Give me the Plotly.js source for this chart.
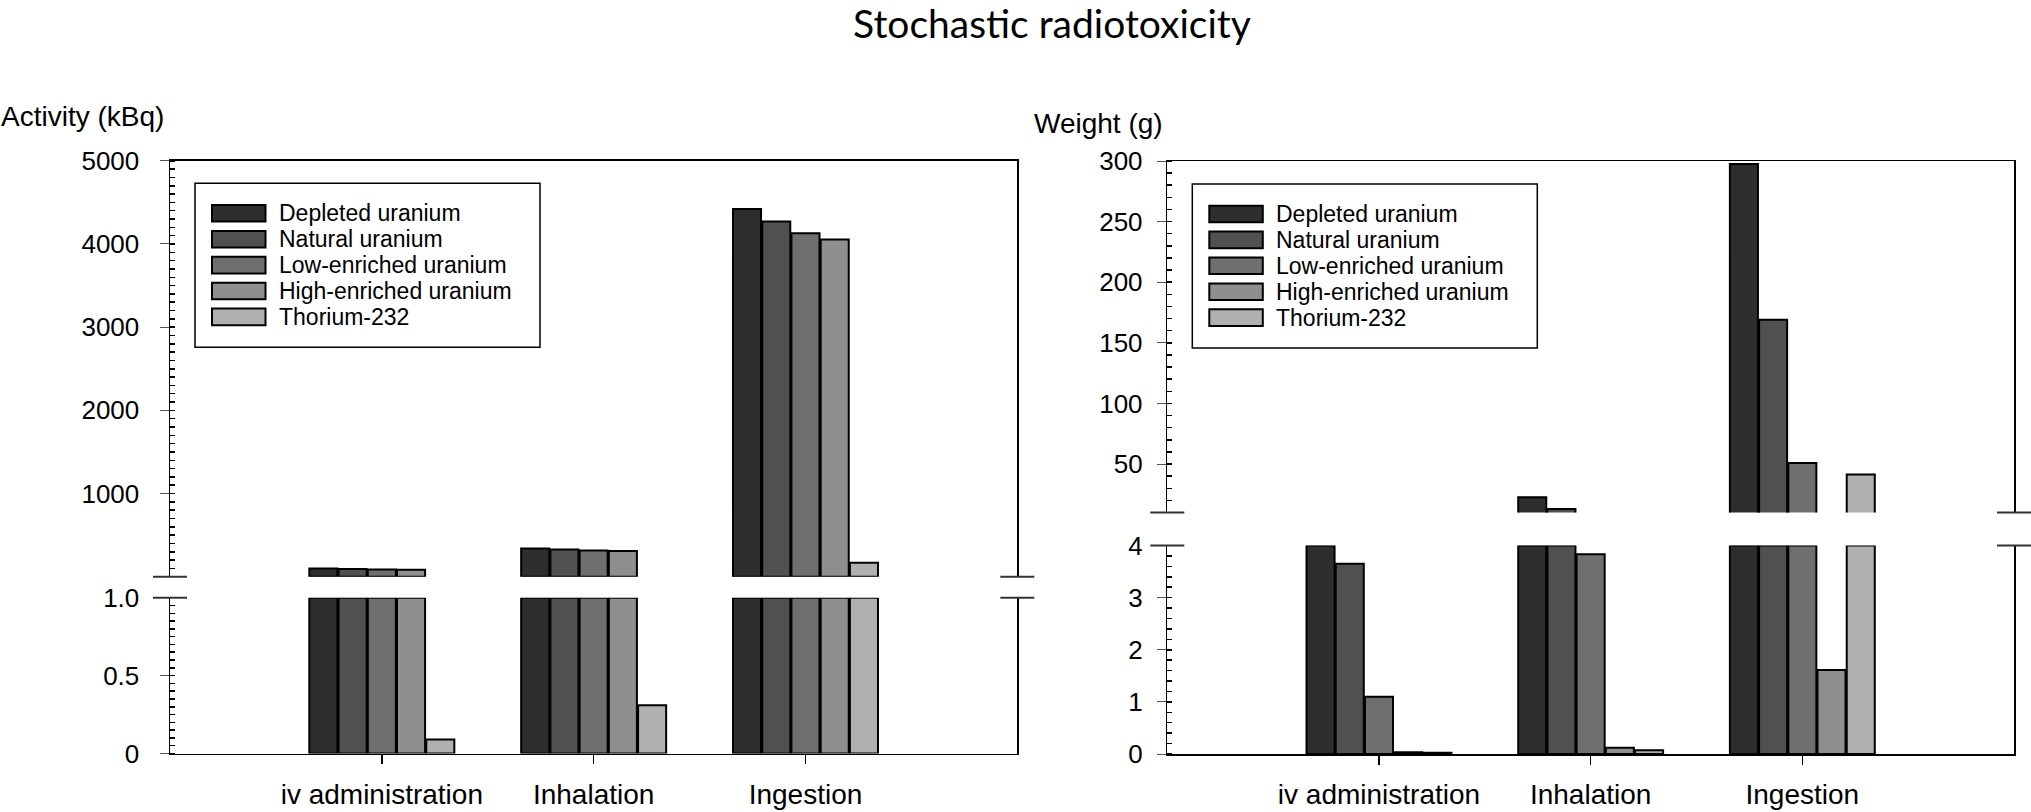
<!DOCTYPE html>
<html><head><meta charset="utf-8">
<script src="https://cdn.plot.ly/plotly-3.0.1.min.js"></script>
<style>html,body{margin:0;padding:0;background:#fff}</style>
</head><body><div id="chart" style="width:2031px;height:812px"></div>
<script>
// ---------- data ----------
const categories = ['iv administration', 'Inhalation', 'Ingestion'];
const seriesNames = ['Depleted uranium', 'Natural uranium', 'Low-enriched uranium', 'High-enriched uranium', 'Thorium-232'];

// Activity (kBq)
const activityDepleted = [100, 340, 4420];
const activityNatural  = [93, 328, 4270];
const activityLow      = [88, 315, 4130];
const activityHigh     = [84, 309, 4055];
const activityThorium  = [0.09, 0.31, 168];

// Weight (g)
const weightDepleted = [6.6, 22.6, 297.5];
const weightNatural  = [3.65, 12.8, 169];
const weightLow      = [1.1, 3.83, 50.8];
const weightHigh     = [0.035, 0.12, 1.61];
const weightThorium  = [0.022, 0.07, 41.3];

const activityLowTickVals = [0, 0.5, 1];
const activityLowTickText = ['0', '0.5', '1.0'];
const activityHighTickVals = [1000, 2000, 3000, 4000, 5000];
const weightLowTickVals = [0, 1, 2, 3, 4];
const weightHighTickVals = [50, 100, 150, 200, 250, 300];

const activityAll = [activityDepleted, activityNatural, activityLow, activityHigh, activityThorium];
const weightAll = [weightDepleted, weightNatural, weightLow, weightHigh, weightThorium];

// ---------- styling ----------
const W = 2031, H = 812;
const colors = ['#2e2e2e', '#505050', '#6f6f6f', '#8f8f8f', '#b0b0b0'];
const FONT = 'Liberation Sans, Arial, sans-serif';
const px = x => x / W;
const py = y => 1 - y / H;

const leftL = 170, leftR = 1017.3, rightL = 1167.3, rightR = 2014;
const leftLowTop = 1.0, rightLowTop = 4.0;

const traces = [];
function addPanel(values, lowTop, xLow, yLow, xHigh, yHigh) {
  values.forEach((vals, i) => {
    traces.push({
      type: 'bar', name: seriesNames[i], x: categories,
      y: vals.map(v => Math.min(v, lowTop)),
      xaxis: xLow, yaxis: yLow, cliponaxis: false, showlegend: false,
      marker: {color: colors[i], line: {color: '#000', width: 2}},
      hoverinfo: 'skip'
    });
    traces.push({
      type: 'bar', name: seriesNames[i], x: categories,
      y: vals.map(v => v > lowTop ? v : null),
      xaxis: xHigh, yaxis: yHigh, showlegend: false,
      marker: {color: colors[i], line: {color: '#000', width: 2}},
      hoverinfo: 'skip'
    });
  });
}
addPanel(activityAll, leftLowTop, 'x', 'y', 'x2', 'y2');
addPanel(weightAll, rightLowTop, 'x3', 'y3', 'x4', 'y4');

const tickFont = {family: FONT, size: 26, color: '#000'};
function xLowAxis(dom, anchor) {
  return {domain: dom, anchor: anchor, type: 'category', categoryorder: 'array', categoryarray: categories,
    range: [-1, 3], showline: true, linecolor: '#000', linewidth: 1.5, mirror: false,
    ticks: 'outside', ticklen: 9, tickcolor: '#000', tickwidth: 1.5, ticklabelstandoff: 6,
    tickfont: {family: FONT, size: 28, color: '#000'}, showgrid: false, zeroline: false, fixedrange: true};
}
function xHighAxis(dom, anchor, match) {
  return {domain: dom, anchor: anchor, matches: match, type: 'category', range: [-1, 3], side: 'top',
    showline: true, linecolor: '#000', linewidth: 1.5, ticks: '', showticklabels: false,
    showgrid: false, zeroline: false, fixedrange: true};
}
function yAxis(dom, anchor, range, tickvals, ticktext, minorDtick, standoff) {
  const a = {domain: dom, anchor: anchor, range: range, tickmode: 'array', tickvals: tickvals,
    showline: true, linecolor: '#000', linewidth: 1.5, mirror: true,
    ticks: 'outside', ticklen: 9, tickcolor: '#555', tickwidth: 1,
    ticklabelstandoff: standoff, tickfont: tickFont,
    minor: {tickmode: 'linear', tick0: 0, dtick: minorDtick, ticks: 'inside', ticklen: 5, tickcolor: '#000', tickwidth: 1.5, showgrid: false},
    showgrid: false, zeroline: false, fixedrange: true};
  if (ticktext) a.ticktext = ticktext;
  return a;
}

const leftX = [px(leftL), px(leftR)], rightX = [px(rightL), px(rightR)];
const layout = {
  width: W, height: H, autosize: false,
  margin: {l: 0, r: 0, t: 0, b: 0, pad: 0},
  paper_bgcolor: '#fff', plot_bgcolor: 'rgba(0,0,0,0)',
  barmode: 'group', bargap: 0.31, bargroupgap: 0.04,
  showlegend: false,
  title: {text: 'Stochastic radiotoxicity', x: px(1052), xanchor: 'center', y: py(24), yanchor: 'middle',
    font: {family: 'Lato, Open Sans, sans-serif', size: 39, color: '#000'}},
  xaxis: xLowAxis(leftX, 'y'),
  xaxis2: xHighAxis(leftX, 'y2', 'x'),
  xaxis3: xLowAxis(rightX, 'y3'),
  xaxis4: xHighAxis(rightX, 'y4', 'x3'),
  yaxis: yAxis([py(753.5), py(597.7)], 'x', [0, 1], activityLowTickVals, activityLowTickText, 0.05, 15),
  yaxis2: yAxis([py(576.7), py(160.8)], 'x2', [0, 5000], activityHighTickVals, null, 100, 15),
  yaxis3: yAxis([py(754), py(545.5)], 'x3', [0, 4], weightLowTickVals, null, 0.2, 9),
  yaxis4: yAxis([py(512.5), py(161)], 'x4', [10, 300], weightHighTickVals, null, 10, 9),
  shapes: [], annotations: []
};

// axis-break marks
function breakMarks(xs, yUp, yLow) {
  xs.forEach(x => [yUp, yLow].forEach(y => {
    layout.shapes.push({type: 'line', xref: 'paper', yref: 'paper', x0: px(x - 17), x1: px(x + 17), y0: py(y), y1: py(y),
      line: {color: '#333', width: 2}});
  }));
}
breakMarks([leftL, leftR], 576.7, 597.7);
breakMarks([rightL, rightR], 512.5, 545.5);

// legend boxes
function legendBox(L, T) {
  layout.shapes.push({type: 'rect', xref: 'paper', yref: 'paper', x0: px(L + 25), x1: px(L + 370), y0: py(T + 22.5), y1: py(T + 186.5),
    line: {color: '#000', width: 1.5}, fillcolor: '#fff', layer: 'above'});
  seriesNames.forEach((name, i) => {
    const cy = T + 52.5 + i * 25.9;
    layout.shapes.push({type: 'rect', xref: 'paper', yref: 'paper', x0: px(L + 42), x1: px(L + 95.5), y0: py(cy + 8.3), y1: py(cy - 8.3),
      line: {color: '#000', width: 2}, fillcolor: colors[i], layer: 'above'});
    layout.annotations.push({xref: 'paper', yref: 'paper', x: px(L + 107), y: py(cy), xanchor: 'left', yanchor: 'middle',
      text: name, showarrow: false, font: {family: FONT, size: 23, color: '#000'}});
  });
}
legendBox(leftL, 160.8);
legendBox(rightL, 161.5);

// axis titles
layout.annotations.push({xref: 'paper', yref: 'paper', x: px(-1.5), y: py(117), xanchor: 'left', yanchor: 'middle',
  text: 'Activity (kBq)', showarrow: false, font: {family: FONT, size: 28, color: '#000'}});
layout.annotations.push({xref: 'paper', yref: 'paper', x: px(1032), y: py(123), xanchor: 'left', yanchor: 'middle',
  text: 'Weight (g)', showarrow: false, font: {family: FONT, size: 28, color: '#000'}});

Plotly.newPlot('chart', traces, layout, {staticPlot: true, displayModeBar: false});
</script></body></html>
